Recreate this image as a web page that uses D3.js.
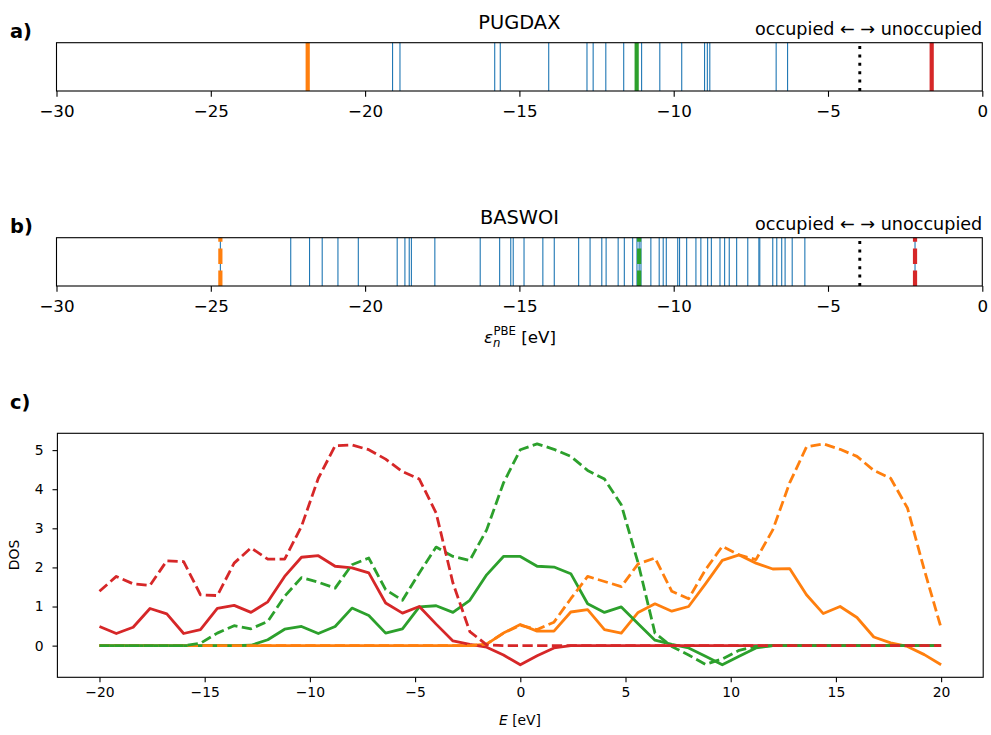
<!DOCTYPE html>
<html><head><meta charset="utf-8">
<script src="https://cdn.jsdelivr.net/npm/d3@7"></script>
<style>body{margin:0;background:#fff} svg{display:block;font-family:"DejaVu Sans",sans-serif}</style>
</head><body><svg id="chart" width="991" height="735"></svg>
<script>
// ---------- data ----------
const levelTicks = [-30, -25, -20, -15, -10, -5, 0];
const levelsA = [-21.86, -19.11, -18.87, -15.80, -15.62, -14.05, -12.81, -12.61, -12.20, -11.62, -11.20, -11.04, -10.45, -9.74, -9.00, -8.91, -8.83, -6.68, -6.31, -1.64];
const highlightEnergiesA = [-21.86, -11.20, -1.64];
const fermiA = -3.97;
const levelsB = [-24.69, -22.41, -21.80, -21.39, -20.88, -20.22, -18.96, -18.71, -18.57, -18.50, -17.74, -16.27, -15.64, -15.28, -15.20, -14.85, -14.24, -13.87, -13.08, -12.71, -12.33, -12.19, -11.80, -11.60, -11.33, -11.19, -11.12, -11.06, -10.74, -10.47, -10.34, -10.24, -9.87, -9.81, -9.58, -9.28, -9.12, -8.90, -8.78, -8.50, -8.35, -8.20, -7.96, -7.60, -7.24, -7.21, -6.79, -6.66, -6.50, -6.39, -6.16, -5.75, -2.18];
const highlightEnergiesB = [-24.69, -11.12, -2.18];
const fermiB = -3.97;
const highlightColors = ["#ff7f0e", "#2ca02c", "#d62728"];

const dosE = [-20, -19.2, -18.4, -17.6, -16.8, -16, -15.2, -14.4, -13.6, -12.8, -12, -11.2, -10.4, -9.6, -8.8, -8, -7.2, -6.4, -5.6, -4.8, -4, -3.2, -2.4, -1.6, -0.8, 0, 0.8, 1.6, 2.4, 3.2, 4, 4.8, 5.6, 6.4, 7.2, 8, 8.8, 9.6, 10.4, 11.2, 12, 12.8, 13.6, 14.4, 15.2, 16, 16.8, 17.6, 18.4, 19.2, 20];
const orangeSolid = [0,0,0,0,0,0,0,0,0,0, 0,0,0,0,0,0,0,0,0,0, 0,0,0,0.04,0.32,0.54,0.37,0.37,0.86,0.92, 0.41,0.32,0.85,1.07,0.88,1.00,1.58,2.18,2.32,2.11, 1.96,1.97,1.30,0.82,1.00,0.72,0.22,0.07,-0.02,-0.23, -0.49];
const greenSolid = [0,0,0,0,0,0,0,0,0,0.01, 0.15,0.42,0.49,0.31,0.49,0.96,0.77,0.32,0.43,0.99, 1.02,0.85,1.16,1.81,2.28,2.28,2.03,2.01,1.84,1.07, 0.85,0.99,0.56,0.14,0.03,-0.06,-0.27,-0.49,-0.27,-0.06, 0,0,0,0,0,0,0,0,0,0, 0];
const redSolid = [0.49,0.31,0.47,0.95,0.81,0.31,0.41,0.95,1.03,0.85, 1.12,1.77,2.26,2.30,2.03,1.99,1.86,1.09,0.83,1.00, 0.55,0.12,0.03,-0.04,-0.24,-0.49,-0.26,-0.06,0,0, 0,0,0,0,0,0,0,0,0,0, 0,0,0,0,0,0,0,0,0,0, 0];
const orangeDashed = [0,0,0,0,0,0,0,0,0,0, 0,0,0,0,0,0,0,0,0,0, 0,0,0,0.04,0.32,0.52,0.41,0.60,1.20,1.77, 1.64,1.51,2.09,2.24,1.39,1.20,1.94,2.54,2.32,2.20, 2.96,4.16,5.08,5.16,5.02,4.84,4.48,4.28,3.52,1.94, 0.45];
const greenDashed = [0,0,0,0,0,0,0.06,0.32,0.51,0.43, 0.62,1.26,1.74,1.62,1.47,2.07,2.24,1.43,1.16,1.86, 2.52,2.28,2.18,2.96,4.16,5.01,5.16,5.02,4.84,4.48, 4.26,3.60,2.11,0.32,-0.02,-0.24,-0.48,-0.34,-0.12,-0.02, 0,0,0,0,0,0,0,0,0,0, 0];
const redDashed = [1.39,1.77,1.58,1.54,2.17,2.15,1.30,1.28,2.11,2.50, 2.21,2.21,3.05,4.28,5.11,5.13,5.01,4.77,4.45,4.26, 3.39,1.60,0.36,0.02,0,0,0,0,0,0, 0,0,0,0,0,0,0,0,0,0, 0,0,0,0,0,0,0,0,0,0, 0];
const dosXTicks = [-20, -15, -10, -5, 0, 5, 10, 15, 20];
const dosYTicks = [0, 1, 2, 3, 4, 5];

// ---------- drawing ----------
const svg = d3.select("#chart");
const TICK_FS = 13.9, BIG_FS = 16.7, TITLE_FS = 19.4, NOTE_FS = 17.6, PANEL_FS = 19.4;
const minusFmt = d => d < 0 ? "\u2212" + Math.abs(d) : String(d);

function styleAxis(g, fs) {
  g.select(".domain").remove();
  g.selectAll(".tick line").attr("stroke", "#000").attr("stroke-width", 1.1);
  g.selectAll(".tick text").attr("fill", "#000").attr("font-size", fs).attr("font-family", '"DejaVu Sans",sans-serif');
}

function levelPanel(top, title, levels, hlE, fermi, dashed, label) {
  const left = 56.5, right = 982.3, h = 48.3;
  const bottom = top + h;
  const x = d3.scaleLinear().domain([-30, 0]).range([left, right]);
  const g = svg.append("g");
  g.selectAll("line.lvl").data(levels).join("line").attr("class", "lvl")
    .attr("x1", d => x(d)).attr("x2", d => x(d)).attr("y1", bottom).attr("y2", top)
    .attr("stroke", "#1f77b4").attr("stroke-width", 1.1);
  g.selectAll("line.hl").data(hlE).join("line").attr("class", "hl")
    .attr("x1", d => x(d)).attr("x2", d => x(d)).attr("y1", bottom).attr("y2", top)
    .attr("stroke", (d, i) => highlightColors[i]).attr("stroke-width", 4.2)
    .attr("stroke-dasharray", dashed ? "15.4,6.7" : null);
  g.append("line").attr("x1", x(fermi)).attr("x2", x(fermi)).attr("y1", bottom).attr("y2", top)
    .attr("stroke", "#000").attr("stroke-width", 2.9).attr("stroke-dasharray", "3,5.4");
  g.append("rect").attr("x", left).attr("y", top).attr("width", right - left).attr("height", h)
    .attr("fill", "none").attr("stroke", "#000").attr("stroke-width", 1.1);
  const ax = g.append("g").attr("transform", `translate(0,${bottom})`)
    .call(d3.axisBottom(x).tickValues(levelTicks).tickSize(5.8).tickPadding(8).tickFormat(minusFmt));
  styleAxis(ax, BIG_FS);
  g.append("text").attr("x", (left + right) / 2).attr("y", top - 14).attr("text-anchor", "middle")
    .attr("font-size", TITLE_FS).text(title);
  g.append("text").attr("x", right).attr("y", top - 7.7).attr("text-anchor", "end")
    .attr("font-size", NOTE_FS).text("occupied \u2190 \u2192 unoccupied");
  g.append("text").attr("x", 10).attr("y", top - 5).attr("font-size", PANEL_FS).attr("font-weight", "bold").text(label);
}

levelPanel(42.7, "PUGDAX", levelsA, highlightEnergiesA, fermiA, false, "a)");
levelPanel(237.7, "BASWOI", levelsB, highlightEnergiesB, fermiB, true, "b)");

// x label for panel b
const xl = svg.append("text").attr("x", 520).attr("y", 343).attr("text-anchor", "middle").attr("font-size", BIG_FS);
xl.append("tspan").attr("font-style", "italic").text("\u03B5");
xl.append("tspan").attr("font-style", "italic").attr("font-size", 11.7).attr("dy", 3.5).text("n");
xl.append("tspan").attr("font-size", 11.7).attr("dy", -11.5).attr("dx", -7).text("PBE");
xl.append("tspan").attr("dy", 8).text(" [eV]");

// ---------- DOS panel ----------
const cL = 57.4, cR = 983.2, cT = 433.3, cB = 677.3;
const xc = d3.scaleLinear().domain([-22, 22]).range([cL, cR]);
const yc = d3.scaleLinear().domain([-0.81, 5.43]).range([cB, cT]);
const gc = svg.append("g");
const line = d3.line().x((d, i) => xc(dosE[i])).y(d => yc(d));
const series = [
  {v: orangeSolid, c: "#ff7f0e", dash: null},
  {v: greenSolid, c: "#2ca02c", dash: null},
  {v: redSolid, c: "#d62728", dash: null},
  {v: orangeDashed, c: "#ff7f0e", dash: "10.3,4.4"},
  {v: greenDashed, c: "#2ca02c", dash: "10.3,4.4"},
  {v: redDashed, c: "#d62728", dash: "10.3,4.4"}
];
gc.selectAll("path.dos").data(series).join("path").attr("class", "dos")
  .attr("d", d => line(d.v)).attr("fill", "none").attr("stroke", d => d.c)
  .attr("stroke-width", 2.8).attr("stroke-linejoin", "round")
  .attr("stroke-dasharray", d => d.dash);
gc.append("rect").attr("x", cL).attr("y", cT).attr("width", cR - cL).attr("height", cB - cT)
  .attr("fill", "none").attr("stroke", "#000").attr("stroke-width", 1.1);
const axc = gc.append("g").attr("transform", `translate(0,${cB})`)
  .call(d3.axisBottom(xc).tickValues(dosXTicks).tickSize(4.9).tickPadding(4.9).tickFormat(minusFmt));
styleAxis(axc, TICK_FS);
const ayc = gc.append("g").attr("transform", `translate(${cL},0)`)
  .call(d3.axisLeft(yc).tickValues(dosYTicks).tickSize(4.9).tickPadding(9).tickFormat(d3.format("d")));
styleAxis(ayc, TICK_FS);
const ex = svg.append("text").attr("x", 520).attr("y", 725).attr("text-anchor", "middle").attr("font-size", TICK_FS);
ex.append("tspan").attr("font-style", "italic").text("E");
ex.append("tspan").text(" [eV]");
svg.append("text").attr("transform", "translate(19,555) rotate(-90)").attr("text-anchor", "middle")
  .attr("font-size", TICK_FS).text("DOS");
svg.append("text").attr("x", 10).attr("y", 409).attr("font-size", PANEL_FS).attr("font-weight", "bold").text("c)");
</script></body></html>
